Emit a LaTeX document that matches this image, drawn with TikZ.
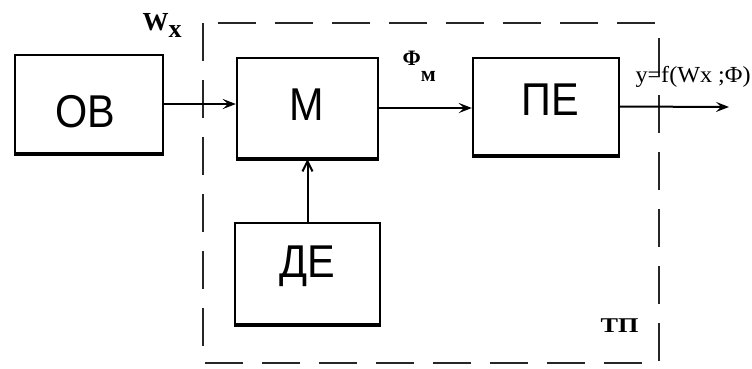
\documentclass[tikz,border=0pt]{standalone}
\usepackage{fontspec,graphicx}
\setmainfont{Liberation Serif}
\newfontfamily\boxfont[FakeStretch=0.9]{Liberation Sans}
\usetikzlibrary{arrows.meta}

\begin{document}
\begin{tikzpicture}[x=1pt,y=-1pt,
  blk/.style={draw,line width=2.4pt,minimum width=#1,minimum height=99pt,inner sep=0pt},
  blktxt/.style={anchor=base,font=\boxfont\fontsize{46}{46}\selectfont},
  lbl/.style={anchor=base west,font=\fontsize{23}{23}\selectfont},
  arr/.style={line width=2pt,-{Stealth[length=13pt,width=10pt,inset=5pt]}}]
\useasboundingbox (0,0) rectangle (752,368);
% the dashed frame of the transducer
\draw[line width=2.2pt,black!85,dash pattern=on 38pt off 19pt] (203,23) rectangle (659,363);
% blocks
\node[blk=148pt,minimum height=98pt] (ov) at (89,104) {};
\node[blk=141pt,minimum height=100pt] (m) at (307.5,108) {};
\node[blk=146pt,minimum height=97pt] (pe) at (546,106.5) {};
\node[blk=145pt,minimum height=101pt] (de) at (307.5,273.5) {};
\foreach \b in {ov,m,pe,de} {\draw[line width=4.4pt] (\b.south west) -- (\b.south east);}
\node[blktxt] (ovt) at (85,127) {ОВ};
\node[blktxt] (mt) at (307,120) {М};
\node[blktxt] (pet) at (550,115) {ПЕ};
\node[blktxt] (det) at (307,277) {ДЕ};
% signals
\coordinate (out) at (729,107);
\draw[arr] (ov.east) -- (ov.east -| m.west);
\draw[arr] (m.east) -- (m.east -| pe.west);
\draw[arr] (pe.east) -- (out);
\draw[line width=2pt,-{Straight Barb[length=10pt,width=10pt]}] (de.north) -- (m.south);
\node[lbl,font=\bfseries\fontsize{26}{26}\selectfont] (wx) at (139,30) {W\raisebox{-7pt}{x}};
\node[lbl,font=\bfseries\fontsize{22}{22}\selectfont] (fm) at (399,65) {Φ\raisebox{-16pt}{м}};
\node[lbl] (y) at (632,82) {\scalebox{1.05}[1]{y=f(Wx ;Φ)}};
\node[lbl,font=\bfseries\fontsize{21}{21}\selectfont] (tp) at (597,332) {\scalebox{1.25}[1]{ТП}};
\end{tikzpicture}
\end{document}
